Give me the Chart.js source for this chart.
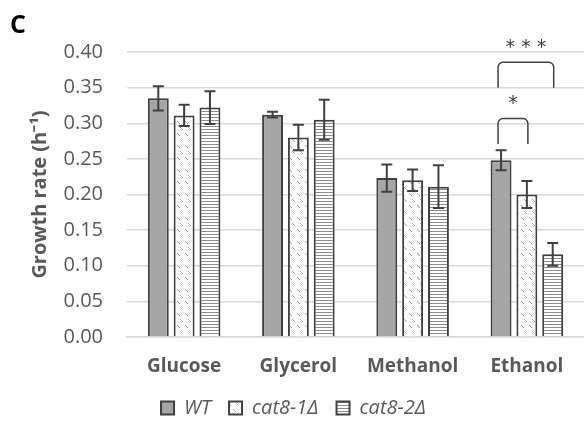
<!DOCTYPE html>
<html>
<head>
<meta charset="utf-8">
<script src="https://cdn.jsdelivr.net/npm/chart.js@4.4.1/dist/chart.umd.min.js"></script>
<style>
  body { margin: 0; background: #fff; }
  canvas { display: block; }
</style>
</head>
<body>
<canvas id="myChart" width="584" height="432"></canvas>
<script>
const carbons = ['Glucose', 'Glycerol', 'Methanol', 'Ethanol'];
const strains = ['WT', 'cat8-1Δ', 'cat8-2Δ'];

const wtRate = [0.335, 0.312, 0.223, 0.248];
const cat81Rate = [0.311, 0.280, 0.220, 0.200];
const cat82Rate = [0.322, 0.305, 0.211, 0.116];

const wtErr = [0.017, 0.004, 0.019, 0.014];
const cat81Err = [0.015, 0.018, 0.015, 0.019];
const cat82Err = [0.023, 0.028, 0.030, 0.016];

const yTicks = [0, 0.05, 0.10, 0.15, 0.20, 0.25, 0.30, 0.35, 0.40];

// significance marks: category, two strains, bracket top, leg end, star height
const sigCat = [3, 3];
const sigFrom = [0, 0];
const sigTo = [1, 2];
const sigTop = [0.3065, 0.3856];
const sigLeg = [0.271, 0.350];
const sigText = ['*', '* * *'];
const sigTextY = [0.327, 0.406];

const dark = '#404040';
const textCol = '#595959';
const font = '"Open Sans", sans-serif';

function hatchPattern() {
  const c = document.createElement('canvas');
  c.width = 8; c.height = 12;
  const g = c.getContext('2d');
  g.fillStyle = '#fff';
  g.fillRect(0, 0, 8, 12);
  g.strokeStyle = '#a0a0a0';
  g.lineWidth = 1;
  g.beginPath();
  g.moveTo(1, 1); g.lineTo(4, 4);
  g.moveTo(4, 7); g.lineTo(7, 10);
  g.stroke();
  return g.createPattern(c, 'repeat');
}

function stripePattern() {
  const c = document.createElement('canvas');
  c.width = 4; c.height = 3;
  const g = c.getContext('2d');
  g.fillStyle = '#fff';
  g.fillRect(0, 0, 4, 3);
  g.fillStyle = '#8c8c8c';
  g.fillRect(0, 0, 4, 1);
  return g.createPattern(c, 'repeat');
}

const errorBars = {
  id: 'errorBars',
  afterDatasetsDraw(chart) {
    const ctx = chart.ctx;
    const y = chart.scales.y;
    ctx.save();
    ctx.strokeStyle = dark;
    ctx.lineWidth = 2;
    chart.data.datasets.forEach((ds, i) => {
      chart.getDatasetMeta(i).data.forEach((bar, j) => {
        const hi = y.getPixelForValue(ds.data[j] + ds.errors[j]);
        const lo = y.getPixelForValue(ds.data[j] - ds.errors[j]);
        const x = bar.x;
        ctx.beginPath();
        ctx.moveTo(x, hi); ctx.lineTo(x, lo);
        ctx.moveTo(x - 5.5, hi); ctx.lineTo(x + 5.5, hi);
        ctx.moveTo(x - 5.5, lo); ctx.lineTo(x + 5.5, lo);
        ctx.stroke();
      });
    });
    ctx.restore();
  }
};

const brackets = {
  id: 'brackets',
  afterDraw(chart) {
    const ctx = chart.ctx;
    const y = chart.scales.y;
    ctx.save();
    ctx.strokeStyle = dark;
    ctx.lineWidth = 1.5;
    for (let k = 0; k < sigCat.length; k++) {
      const x1 = chart.getDatasetMeta(sigFrom[k]).data[sigCat[k]].x - 3;
      const x2 = chart.getDatasetMeta(sigTo[k]).data[sigCat[k]].x + 1;
      const top = y.getPixelForValue(sigTop[k]);
      const leg = y.getPixelForValue(sigLeg[k]);
      ctx.beginPath();
      ctx.moveTo(x1, leg);
      ctx.arcTo(x1, top, x2, top, 5);
      ctx.arcTo(x2, top, x2, leg, 5);
      ctx.lineTo(x2, leg);
      ctx.stroke();
      ctx.fillStyle = dark;
      ctx.font = '19px "DejaVu Sans", sans-serif';
      ctx.textAlign = 'center';
      ctx.textBaseline = 'middle';
      ctx.fillText(sigText[k], (x1 + x2) / 2, y.getPixelForValue(sigTextY[k]));
    }
    // panel letter
    ctx.fillStyle = '#000';
    ctx.font = 'bold 25px ' + font;
    ctx.textAlign = 'left';
    ctx.textBaseline = 'alphabetic';
    ctx.fillText('C', 10, 33);
    ctx.restore();
  }
};

const ctx = document.getElementById('myChart').getContext('2d');
const myChart = new Chart(ctx, {
  type: 'bar',
  data: {
    labels: carbons,
    datasets: [
      { label: strains[0], data: wtRate, errors: wtErr, backgroundColor: '#a6a6a6' },
      { label: strains[1], data: cat81Rate, errors: cat81Err, backgroundColor: hatchPattern() },
      { label: strains[2], data: cat82Rate, errors: cat82Err, backgroundColor: stripePattern() }
    ].map(d => Object.assign(d, {
      borderColor: dark,
      borderWidth: 2,
      categoryPercentage: 0.678,
      barPercentage: 0.81
    }))
  },
  options: {
    responsive: false,
    animation: false,
    layout: { padding: { left: 0, right: -3, top: 52, bottom: 4 } },
    plugins: {
      tooltip: { enabled: false },
      legend: {
        position: 'bottom',
        labels: {
          boxWidth: 13,
          boxHeight: 13,
          padding: 18,
          color: textCol,
          font: { family: font, size: 20, style: 'italic' }
        }
      }
    },
    scales: {
      x: {
        grid: { display: false },
        border: { color: '#d9d9d9', width: 1.5 },
        ticks: { color: textCol, padding: 10, font: { family: font, size: 19, weight: 'bold' } },
        afterFit(s) { s.height = 43; }
      },
      y: {
        min: 0,
        max: 0.4,
        afterBuildTicks(s) { s.ticks = yTicks.map(v => ({ value: v })); },
        ticks: {
          color: textCol,
          padding: 24,
          font: { family: font, size: 20 },
          callback: v => v.toFixed(2)
        },
        grid: { color: '#d9d9d9', lineWidth: 1.5, drawTicks: false },
        border: { display: false },
        title: {
          display: true,
          text: 'Growth rate (h⁻¹)',
          color: textCol,
          padding: { top: 28, bottom: 0 },
          font: { family: font, size: 20, weight: 'bold' }
        },
        afterFit(s) { s.width = 127; }
      }
    }
  },
  plugins: [errorBars, brackets]
});
</script>
</body>
</html>
